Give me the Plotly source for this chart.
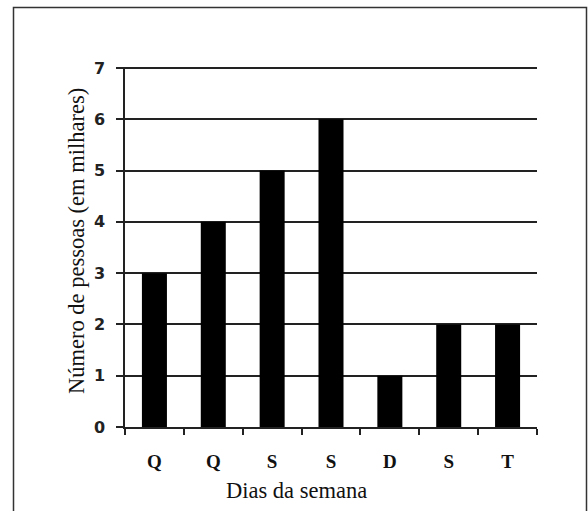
import plotly.graph_objects as go

dias = ["Quarta", "Quinta", "Sexta", "Sábado", "Domingo", "Segunda", "Terça"]
rotulos = ["Q", "Q", "S", "S", "D", "S", "T"]
pessoas = [3, 4, 5, 6, 1, 2, 2]
y_ticks = [0, 1, 2, 3, 4, 5, 6, 7]

fig = go.Figure(go.Bar(x=dias, y=pessoas, marker=dict(color="black", line=dict(width=0))))

W, H = 588, 511
L, R, T, B = 125, 51, 67, 84
pw, ph = W - L - R, H - T - B

def px_to_paper_x(p):
    return (p - L) / pw

def px_to_paper_y(p):
    return (H - B - p) / ph

fig.update_layout(
    width=W, height=H,
    margin=dict(l=L, r=R, t=T, b=B),
    paper_bgcolor="white", plot_bgcolor="white",
    bargap=0.575,
    showlegend=False,
    xaxis=dict(
        type="category",
        tickmode="array", tickvals=dias, ticktext=rotulos,
        tickson="boundaries", ticks="outside", ticklen=6, tickwidth=1.5, tickcolor="#222",
        showgrid=False, showline=True, linecolor="#222", linewidth=1.5,
        tickfont=dict(family="Liberation Serif", size=19, color="#111", weight="bold"),
        ticklabelstandoff=16,
    ),
    yaxis=dict(
        range=[0, 7.02], tickmode="array", tickvals=y_ticks,
        ticks="outside", ticklen=7, tickwidth=1.5, tickcolor="#222",
        showgrid=True, gridcolor="#222", gridwidth=1.5,
        showline=True, linecolor="#222", linewidth=1.5,
        zeroline=False,
        tickfont=dict(family="DejaVu Sans", size=16, color="#222", weight="bold"),
        ticklabelstandoff=8,
    ),
    shapes=[dict(
        type="rect", xref="paper", yref="paper",
        x0=px_to_paper_x(13.5), x1=px_to_paper_x(586.5),
        y0=px_to_paper_y(530), y1=px_to_paper_y(7.5),
        line=dict(color="#333", width=1.5), fillcolor="rgba(0,0,0,0)", layer="below",
    )],
    annotations=[
        dict(text="Dias da semana", xref="paper", yref="paper",
             x=px_to_paper_x(296), y=px_to_paper_y(490), xanchor="center", yanchor="middle",
             showarrow=False, font=dict(family="Liberation Serif", size=22.5, color="#111")),
        dict(text="Número de pessoas (em milhares)", xref="paper", yref="paper",
             x=px_to_paper_x(77), y=px_to_paper_y(241), xanchor="center", yanchor="middle",
             textangle=-90, showarrow=False,
             font=dict(family="Liberation Serif", size=22.5, color="#111")),
    ],
)

fig.write_html(
    "out.html",
    config={"displayModeBar": False},
    post_script="document.body.style.margin='0';document.body.style.overflow='hidden';",
)
